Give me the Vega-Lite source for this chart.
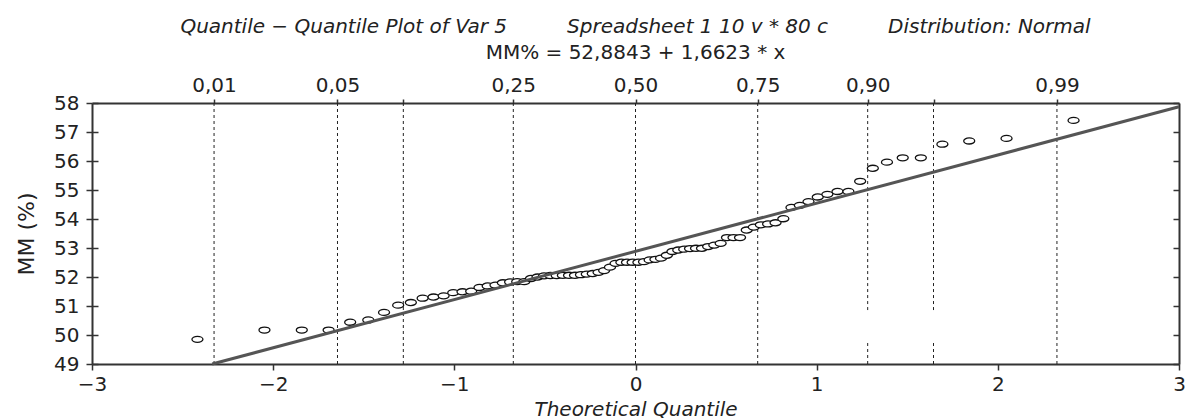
{
  "$schema": "https://vega.github.io/schema/vega-lite/v6.json",
  "width": 1087,
  "height": 261,
  "autosize": {"type": "none"},
  "padding": {"left": 92, "top": 103, "right": 7, "bottom": 54},
  "background": "white",
  "config": {
    "view": {"stroke": null},
    "axis": {
      "labelFont": "DejaVu Sans",
      "labelFontSize": 20,
      "labelColor": "#222",
      "titleFont": "DejaVu Sans",
      "titleFontSize": 20,
      "titleColor": "#222",
      "titleFontWeight": "normal",
      "domainColor": "#333",
      "domainWidth": 2,
      "tickColor": "#333",
      "tickWidth": 1.5,
      "grid": false
    }
  },
  "title": {
    "text": "Quantile − Quantile Plot of Var 5\u2003\u2003\u2003Spreadsheet 1 10 v * 80 c\u2003\u2003\u2003Distribution: Normal",
    "subtitle": "MM% = 52,8843 + 1,6623 * x",
    "font": "DejaVu Sans",
    "fontSize": 20,
    "fontStyle": "italic",
    "fontWeight": "normal",
    "color": "#222",
    "subtitleFont": "DejaVu Sans",
    "subtitleFontSize": 20,
    "subtitleFontStyle": "normal",
    "subtitleColor": "#222",
    "subtitlePadding": 6,
    "anchor": "middle",
    "frame": "group",
    "offset": 12
  },
  "resolve": {"axis": {"x": "independent", "y": "independent"}},
  "layer": [
    {
      "data": {"values": [
        {"q": -2.3263, "a": 49, "b": 58},
        {"q": -1.6449, "a": 49, "b": 58},
        {"q": -1.2816, "a": 49, "b": 58},
        {"q": -0.6745, "a": 49, "b": 58},
        {"q": 0, "a": 49, "b": 58},
        {"q": 0.6745, "a": 49, "b": 58},
        {"q": 1.2816, "a": 49, "b": 49.76},
        {"q": 1.2816, "a": 50.86, "b": 58},
        {"q": 1.6449, "a": 49, "b": 49.76},
        {"q": 1.6449, "a": 50.86, "b": 58},
        {"q": 2.3263, "a": 49, "b": 58}
      ]},
      "mark": {"type": "rule", "color": "#222", "strokeWidth": 1, "strokeDash": [3, 3]},
      "encoding": {
        "x": {
          "field": "q", "type": "quantitative",
          "scale": {"domain": [-3, 3], "nice": false, "zero": false},
          "axis": {
            "orient": "top",
            "title": null,
            "values": [-2.3263, -1.6449, -1.2816, -0.6745, 0, 0.6745, 1.2816, 1.6449, 2.3263],
            "labelExpr": "datum.value < -2 ? '0,01' : datum.value < -1.5 ? '0,05' : datum.value < -1 ? '' : datum.value < -0.5 ? '0,25' : datum.value < 0.5 ? '0,50' : datum.value < 1 ? '0,75' : datum.value < 1.5 ? '0,90' : datum.value < 2 ? '' : '0,99'",
            "tickSize": 4,
            "labelPadding": 4,
            "labelFlush": false,
            "labelOverlap": false
          }
        },
        "y": {
          "field": "a", "type": "quantitative",
          "scale": {"domain": [49, 58], "nice": false, "zero": false},
          "axis": {
            "orient": "right",
            "title": null,
            "labels": false,
            "values": [49, 50, 51, 52, 53, 54, 55, 56, 57, 58],
            "tickSize": -6
          }
        },
        "y2": {"field": "b"}
      }
    },
    {
      "data": {"values": [
        {"z": -2.418, "v": 49.85}, {"z": -2.048, "v": 50.17}, {"z": -1.842, "v": 50.17}, {"z": -1.694, "v": 50.17},
        {"z": -1.575, "v": 50.44}, {"z": -1.475, "v": 50.52}, {"z": -1.388, "v": 50.78}, {"z": -1.310, "v": 51.03},
        {"z": -1.240, "v": 51.12}, {"z": -1.175, "v": 51.27}, {"z": -1.115, "v": 51.31}, {"z": -1.059, "v": 51.35},
        {"z": -1.006, "v": 51.46}, {"z": -0.955, "v": 51.49}, {"z": -0.907, "v": 51.51}, {"z": -0.861, "v": 51.64},
        {"z": -0.816, "v": 51.69}, {"z": -0.773, "v": 51.72}, {"z": -0.732, "v": 51.80}, {"z": -0.692, "v": 51.83},
        {"z": -0.653, "v": 51.84}, {"z": -0.614, "v": 51.84}, {"z": -0.577, "v": 51.95}, {"z": -0.541, "v": 52.00},
        {"z": -0.505, "v": 52.04}, {"z": -0.470, "v": 52.05}, {"z": -0.435, "v": 52.05}, {"z": -0.401, "v": 52.06},
        {"z": -0.367, "v": 52.06}, {"z": -0.334, "v": 52.06}, {"z": -0.301, "v": 52.08}, {"z": -0.269, "v": 52.10},
        {"z": -0.236, "v": 52.12}, {"z": -0.204, "v": 52.16}, {"z": -0.173, "v": 52.22}, {"z": -0.141, "v": 52.34},
        {"z": -0.110, "v": 52.47}, {"z": -0.078, "v": 52.51}, {"z": -0.047, "v": 52.51}, {"z": -0.016, "v": 52.51},
        {"z": 0.016, "v": 52.51}, {"z": 0.047, "v": 52.53}, {"z": 0.078, "v": 52.59}, {"z": 0.110, "v": 52.61},
        {"z": 0.141, "v": 52.65}, {"z": 0.173, "v": 52.75}, {"z": 0.204, "v": 52.88}, {"z": 0.236, "v": 52.93},
        {"z": 0.269, "v": 52.96}, {"z": 0.301, "v": 52.98}, {"z": 0.334, "v": 52.99}, {"z": 0.367, "v": 52.99},
        {"z": 0.401, "v": 53.05}, {"z": 0.435, "v": 53.10}, {"z": 0.470, "v": 53.16}, {"z": 0.505, "v": 53.36},
        {"z": 0.541, "v": 53.36}, {"z": 0.577, "v": 53.36}, {"z": 0.614, "v": 53.62}, {"z": 0.653, "v": 53.72},
        {"z": 0.692, "v": 53.80}, {"z": 0.732, "v": 53.83}, {"z": 0.773, "v": 53.87}, {"z": 0.816, "v": 54.01},
        {"z": 0.861, "v": 54.40}, {"z": 0.907, "v": 54.47}, {"z": 0.955, "v": 54.60}, {"z": 1.006, "v": 54.76},
        {"z": 1.059, "v": 54.85}, {"z": 1.115, "v": 54.95}, {"z": 1.175, "v": 54.95}, {"z": 1.240, "v": 55.30},
        {"z": 1.310, "v": 55.75}, {"z": 1.388, "v": 55.96}, {"z": 1.475, "v": 56.11}, {"z": 1.575, "v": 56.11},
        {"z": 1.694, "v": 56.58}, {"z": 1.842, "v": 56.69}, {"z": 2.048, "v": 56.78}, {"z": 2.418, "v": 57.40}
      ]},
      "mark": {
        "type": "point",
        "shape": "M-1,0A1,0.55,0,1,0,1,0A1,0.55,0,1,0,-1,0Z",
        "size": 121,
        "filled": false,
        "fill": "white",
        "fillOpacity": 1,
        "stroke": "#111",
        "strokeWidth": 1.3,
        "opacity": 1
      },
      "encoding": {
        "x": {
          "field": "z", "type": "quantitative",
          "scale": {"domain": [-3, 3], "nice": false, "zero": false},
          "axis": {
            "orient": "bottom",
            "title": "Theoretical Quantile",
            "titleFontStyle": "italic",
            "titlePadding": 5,
            "values": [-3, -2, -1, 0, 1, 2, 3],
            "format": "d",
            "tickSize": 6,
            "labelPadding": 4,
            "labelFlush": false,
            "labelOverlap": false
          }
        },
        "y": {
          "field": "v", "type": "quantitative",
          "scale": {"domain": [49, 58], "nice": false, "zero": false},
          "axis": {
            "orient": "left",
            "title": "MM (%)",
            "titleFontStyle": "normal",
            "titleFontSize": 22,
            "titlePadding": 15,
            "values": [49, 50, 51, 52, 53, 54, 55, 56, 57, 58],
            "format": "d",
            "tickSize": 6,
            "labelPadding": 7,
            "labelFlush": false,
            "labelOverlap": false
          }
        }
      }
    },
    {
      "data": {"values": [
        {"z": -2.3367, "v": 49},
        {"z": 3, "v": 57.8712}
      ]},
      "mark": {"type": "line", "color": "#555", "strokeWidth": 3},
      "encoding": {
        "x": {
          "field": "z", "type": "quantitative",
          "scale": {"domain": [-3, 3], "nice": false, "zero": false},
          "axis": null
        },
        "y": {
          "field": "v", "type": "quantitative",
          "scale": {"domain": [49, 58], "nice": false, "zero": false},
          "axis": {
            "orient": "left",
            "title": null,
            "labels": false,
            "domain": false,
            "values": [49, 50, 51, 52, 53, 54, 55, 56, 57, 58],
            "tickSize": -6
          }
        }
      }
    }
  ]
}
